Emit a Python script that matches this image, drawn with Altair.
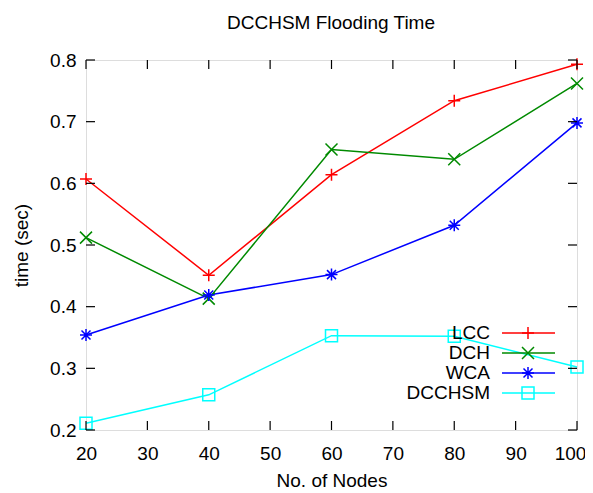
import altair as alt
import pandas as pd

nodes = [20, 40, 60, 80, 100]
series = ["LCC", "DCH", "WCA", "DCCHSM"]
lcc = [0.607, 0.451, 0.614, 0.734, 0.793]
dch = [0.512, 0.413, 0.655, 0.639, 0.762]
wca = [0.354, 0.419, 0.452, 0.532, 0.698]
dcchsm = [0.211, 0.257, 0.353, 0.352, 0.302]
x_ticks = [20, 30, 40, 50, 60, 70, 80, 90, 100]
y_ticks = [0.2, 0.3, 0.4, 0.5, 0.6, 0.7, 0.8]

colors = ["#ff0000", "#008a00", "#0000ff", "#00ffff"]
shapes = [
    "M-1,0L1,0M0,-1L0,1",
    "M-1,-1L1,1M-1,1L1,-1",
    "M-1,0L1,0M0,-1L0,1M-0.75,-0.75L0.75,0.75M-0.75,0.75L0.75,-0.75",
    "M-1,-1L1,-1L1,1L-1,1Z",
]

rows = []
for name, vals in zip(series, [lcc, dch, wca, dcchsm]):
    for n, v in zip(nodes, vals):
        rows.append({"series": name, "nodes": n, "time": v})
df = pd.DataFrame(rows)
leg = pd.DataFrame({"series": series})
xt = pd.DataFrame({"v": x_ticks})
yt = pd.DataFrame({"v": y_ticks})

FONT = "Liberation Sans"
FS = 19
W, H = 491, 370

xs = alt.Scale(domain=[20, 100], nice=False, zero=False)
ys = alt.Scale(domain=[0.2, 0.8], nice=False, zero=False)
col = alt.Color("series:N", scale=alt.Scale(domain=series, range=colors), legend=None)
shp = alt.Shape("series:N", scale=alt.Scale(domain=series, range=shapes), legend=None)

xenc = alt.X("nodes:Q", scale=xs, title="No. of Nodes",
             axis=alt.Axis(values=x_ticks, format="d", grid=False, ticks=False, domain=False,
                           labelFlush=False, labelOverlap=False,
                           labelOffset=alt.ExprRef("datum.value == 100 ? -7 : 0"),
                           labelFontSize=FS, labelFont=FONT, labelColor="black", labelPadding=14,
                           titleFontSize=FS, titleFont=FONT, titleColor="black", titleFontWeight="normal",
                           titlePadding=8))
yenc = alt.Y("time:Q", scale=ys, title="time (sec)",
             axis=alt.Axis(values=y_ticks, format=".1f", grid=False, ticks=False, domain=False,
                           labelFlush=False, labelOverlap=False,
                           labelFontSize=FS, labelFont=FONT, labelColor="black", labelPadding=10,
                           titleFontSize=FS, titleFont=FONT, titleColor="black", titleFontWeight="normal",
                           titlePadding=18))

base = alt.Chart(df)
lines = base.mark_line(strokeWidth=1.5).encode(x=xenc, y=yenc, color=col, detail="series:N")
pts = base.mark_point(filled=False, size=144, strokeWidth=1.5, opacity=1).encode(
    x=alt.X("nodes:Q", scale=xs), y=alt.Y("time:Q", scale=ys), color=col, shape=shp)

tk = dict(color="black", strokeWidth=1.2)
bt = alt.Chart(xt).mark_rule(**tk).encode(x=alt.X("v:Q", scale=xs), y=alt.value(H), y2=alt.value(H - 9))
tt = alt.Chart(xt).mark_rule(**tk).encode(x=alt.X("v:Q", scale=xs), y=alt.value(0), y2=alt.value(9))
lt = alt.Chart(yt).mark_rule(**tk).encode(y=alt.Y("v:Q", scale=ys), x=alt.value(0), x2=alt.value(9))
rt = alt.Chart(yt).mark_rule(**tk).encode(y=alt.Y("v:Q", scale=ys), x=alt.value(W), x2=alt.value(W - 9))

title = alt.Chart(leg).transform_filter(alt.datum.series == "LCC").mark_text(
    fontSize=FS, font=FONT, color="black", align="center", baseline="alphabetic"
).encode(x=alt.value(245), y=alt.value(-31), text=alt.value("DCCHSM Flooding Time"))

main = alt.layer(lines, pts, bt, tt, lt, rt, title)

ly = alt.Y("series:N", sort=series, scale=alt.Scale(domain=series, range=[263, 343], padding=0), axis=None)
leg_text = alt.Chart(leg).mark_text(fontSize=FS, font=FONT, color="black", align="right",
                                    baseline="middle").encode(x=alt.value(404), y=ly, text="series:N")
leg_rule = alt.Chart(leg).mark_rule(strokeWidth=1.5).encode(x=alt.value(416), x2=alt.value(469), y=ly, color=col)
leg_pts = alt.Chart(leg).mark_point(filled=False, size=144, strokeWidth=1.5, opacity=1).encode(
    x=alt.value(442), y=ly, color=col, shape=shp)
legend = alt.layer(leg_rule, leg_pts, leg_text)

chart = alt.layer(main, legend).resolve_scale(y="independent").properties(
    width=W, height=H,
    autosize=alt.AutoSizeParams(type="none"),
    padding={"left": 78, "top": 52, "right": 8, "bottom": 63},
).configure_view(stroke="black", strokeWidth=1.5).configure(background="white")

chart.save("out.html", embed_options={"renderer": "svg", "actions": False})
